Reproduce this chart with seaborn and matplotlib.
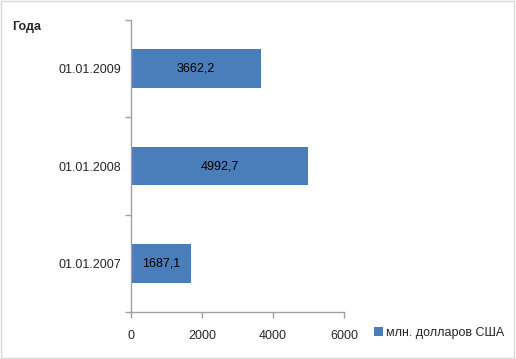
import matplotlib
matplotlib.use("Agg")
import matplotlib.pyplot as plt
from matplotlib.patches import Rectangle, Patch
import seaborn as sns
import pandas as pd

dates = ["01.01.2009", "01.01.2008", "01.01.2007"]
values = [3662.2, 4992.7, 1687.1]
series_name = "млн. долларов США"
bar_color = "#4a7ebb"

df = pd.DataFrame({"date": dates, "value": values})

sns.set_theme(style="white")
plt.rcParams["font.family"] = ["Liberation Sans", "DejaVu Sans"]

fig = plt.figure(figsize=(5.16, 3.59), dpi=100)
ax = fig.add_axes([0.254, 0.131, 0.413, 0.813])

sns.barplot(data=df, x="value", y="date", order=dates, color=bar_color,
            width=0.4, saturation=1, linewidth=0, ax=ax)

ax.set_xlim(0, 6000)
ax.set_ylim(2.5, -0.5)
ax.set_xticks([0, 2000, 4000, 6000])
ax.set_xlabel("")
ax.set_ylabel("")

labels = [f"{v:.1f}".replace(".", ",") for v in values]
ax.bar_label(ax.containers[0], labels=labels, label_type="center",
             fontsize=9, color="black")

for s in ["top", "right"]:
    ax.spines[s].set_visible(False)
for s in ["left", "bottom"]:
    ax.spines[s].set_color("#a0a0a0")
    ax.spines[s].set_linewidth(1)

ax.tick_params(axis="x", bottom=True, length=4, width=1, color="#a0a0a0",
               labelsize=9, pad=9)
ax.tick_params(axis="y", left=False, labelsize=9, pad=1)
ax.set_yticks([-0.5, 0.5, 1.5, 2.5], minor=True)
ax.tick_params(axis="y", which="minor", left=True, length=4, width=1,
               color="#a0a0a0")

fig.text(0.023, 0.925, "Года", fontsize=9, fontweight="bold", ha="left",
         va="center")

handle = Patch(facecolor=bar_color, edgecolor="none")
fig.legend([handle], [series_name], loc="center left",
           bbox_to_anchor=(0.703, 0.072), frameon=False, fontsize=9,
           handlelength=0.7, handleheight=0.7, handletextpad=0.3)

fig.patches.append(Rectangle((0.002, 0.002), 0.994, 0.994,
                             transform=fig.transFigure, fill=False,
                             edgecolor="#d9d9d9", linewidth=1))

fig.savefig("out.png", dpi=100)
